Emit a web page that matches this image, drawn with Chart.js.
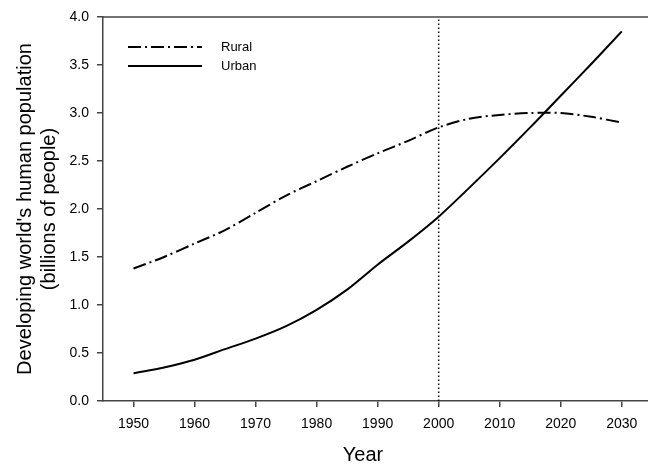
<!DOCTYPE html>
<html lang="en">
<head>
    <meta charset="UTF-8">
    <title>Developing world population</title>
    <script src="https://cdn.jsdelivr.net/npm/chart.js"></script>
    <style>
        body { margin: 0; overflow: hidden; background: #fff; }
    </style>
</head>
<body>
    <canvas id="myChart" width="648" height="465"></canvas>

    <script>
        // data
        const years = [1950, 1955, 1960, 1965, 1970, 1975, 1980, 1985, 1990, 1995, 2000, 2005, 2010, 2015, 2020, 2025, 2030];
        const rural = [1.38, 1.50, 1.64, 1.78, 1.96, 2.14, 2.29, 2.44, 2.58, 2.71, 2.85, 2.94, 2.98, 3.00, 3.00, 2.96, 2.90];
        const urban = [0.29, 0.35, 0.43, 0.54, 0.65, 0.78, 0.95, 1.16, 1.42, 1.66, 1.92, 2.22, 2.53, 2.85, 3.18, 3.51, 3.85];
        const xTicks = [1950, 1960, 1970, 1980, 1990, 2000, 2010, 2020, 2030];
        const markerYear = [2000];

        const font = "'Liberation Sans', Arial, sans-serif";

        // top frame line, legend inside plot, x title
        const extras = {
            id: 'extras',
            afterDraw(chart) {
                const ctx = chart.ctx;
                const a = chart.chartArea;
                ctx.save();
                ctx.strokeStyle = '#444';
                ctx.lineWidth = 1.5;
                ctx.beginPath();
                ctx.moveTo(a.left, a.top);
                ctx.lineTo(a.right, a.top);
                ctx.stroke();

                // legend
                const items = chart.data.datasets.slice(0, 2);
                items.forEach((ds, i) => {
                    const y = 47 + i * 19;
                    ctx.strokeStyle = '#000';
                    ctx.lineWidth = 2;
                    ctx.setLineDash(ds.borderDash || []);
                    ctx.beginPath();
                    ctx.moveTo(128, y);
                    ctx.lineTo(202, y);
                    ctx.stroke();
                    ctx.setLineDash([]);
                    ctx.fillStyle = '#000';
                    ctx.font = '13px ' + font;
                    ctx.textBaseline = 'middle';
                    ctx.fillText(ds.label, 221, y);
                });

                ctx.font = '20px ' + font;
                ctx.textAlign = 'center';
                ctx.textBaseline = 'middle';
                ctx.fillStyle = '#000';
                ctx.fillText('Year', 363, 455);
                ctx.restore();
            }
        };

        const data = {
            datasets: [
                {
                    label: 'Rural',
                    data: years.map((x, i) => ({ x: x, y: rural[i] })),
                    borderColor: '#000',
                    borderWidth: 2,
                    borderDash: [13, 4, 2, 4],
                    pointRadius: 0,
                    showLine: true,
                    tension: 0.3
                },
                {
                    label: 'Urban',
                    data: years.map((x, i) => ({ x: x, y: urban[i] })),
                    borderColor: '#000',
                    borderWidth: 2,
                    pointRadius: 0,
                    showLine: true,
                    tension: 0.3
                },
                {
                    label: '2000',
                    data: [{ x: markerYear[0], y: 0 }, { x: markerYear[0], y: 4 }],
                    borderColor: '#000',
                    borderWidth: 1.5,
                    borderDash: [1.5, 2.5],
                    pointRadius: 0,
                    showLine: true
                }
            ]
        };

        const options = {
            responsive: false,
            animation: false,
            layout: { padding: { left: 0, top: 17, right: 0, bottom: 0 } },
            plugins: { legend: { display: false }, tooltip: { enabled: false } },
            scales: {
                x: {
                    type: 'linear',
                    min: 1945,
                    max: 2034.3,
                    afterBuildTicks: scale => { scale.ticks = xTicks.map(v => ({ value: v })); },
                    afterFit: scale => { scale.height = 64; },
                    grid: { drawOnChartArea: false, tickLength: 6, color: '#444', lineWidth: 1.5 },
                    border: { color: '#444', width: 1.5 },
                    ticks: { color: '#000', font: { family: font, size: 14 }, padding: 9, maxRotation: 0, callback: v => String(v) }
                },
                y: {
                    min: 0,
                    max: 4,
                    afterFit: scale => { scale.width = 103; },
                    grid: { drawOnChartArea: false, tickLength: 6, color: '#444', lineWidth: 1.5 },
                    border: { color: '#444', width: 1.5 },
                    ticks: { stepSize: 0.5, color: '#000', font: { family: font, size: 14 }, padding: 8, callback: v => v.toFixed(1) },
                    title: {
                        display: true,
                        text: ["Developing world's human population", '(billions of people)'],
                        color: '#000',
                        font: { family: font, size: 20 },
                        padding: { top: 13, bottom: 0 }
                    }
                }
            }
        };

        const ctx = document.querySelector('#myChart').getContext('2d');
        const myChart = new Chart(ctx, { type: 'scatter', data: data, options: options, plugins: [extras] });
    </script>
</body>
</html>
